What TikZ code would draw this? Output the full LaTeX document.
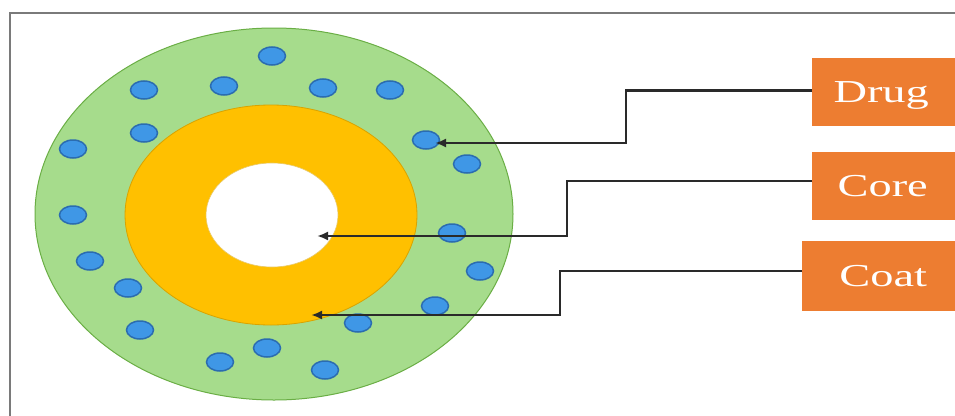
\documentclass[tikz,border=0pt]{standalone}
\usepackage{fontspec}
\usepackage{graphicx}
\setmainfont{Liberation Serif}
\usetikzlibrary{arrows.meta}
\definecolor{framegray}{HTML}{7A7A7A}
\definecolor{coatfill}{HTML}{A6DC8C}
\definecolor{coatline}{HTML}{6AAE45}
\definecolor{corefill}{HTML}{FFC000}
\definecolor{coreline}{HTML}{D9A300}
\definecolor{dotfill}{HTML}{3F97E6}
\definecolor{dotline}{HTML}{2B6CB0}
\definecolor{boxorange}{HTML}{ED7D31}
\definecolor{leader}{HTML}{2A2A2A}
\tikzset{
  drugdot/.style={fill=dotfill,draw=dotline,line width=1.5pt},
  labelbox/.style={fill=boxorange,draw=none,anchor=west,inner xsep=0pt,
    minimum height=68pt,text height=21pt,text depth=0pt,text=white,
    font=\fontsize{32}{34}\selectfont},
  leaderline/.style={draw=leader,line width=2.2pt,
    -{Latex[length=11pt,width=9pt]}}
}
\newcommand{\boxtext}[3]{\makebox[#1pt][c]{\scalebox{1.45}[1]{#3}}\hspace*{#2pt}}
\begin{document}
\begin{tikzpicture}[x=1pt,y=-1pt]
\useasboundingbox (0,0) rectangle (955,415);
\fill[white] (0,0) rectangle (955,415);
% frame
\draw[framegray,line width=2pt] (10,430) -- (10,13) -- (970,13);
% particle
\draw[fill=coatfill,draw=coatline,line width=1pt] (274,214) ellipse [x radius=239,y radius=186];
\draw[fill=corefill,draw=coreline,line width=0.8pt] (271,215) ellipse [x radius=146,y radius=110];
\draw[fill=white,draw=coreline!60,line width=0.6pt] (272,215) ellipse [x radius=66,y radius=52];
% drug dots
\foreach \px/\py in {272/56,144/90,224/86,323/88,390/90,144/133,73/149,426/140,467/164,
  73/215,452/233,90/261,480/271,128/288,435/306,140/330,358/323,267/348,220/362,325/370}
  \draw[drugdot] (\px,\py) ellipse [x radius=13.5,y radius=9];
% label boxes
\node[labelbox] (drug) at (812,91.5) {\boxtext{138}{12}{Drug}};
\node[labelbox] (core) at (812,186) {\boxtext{141}{9}{Core}};
\node[labelbox,minimum height=70pt] (coat) at (802,276) {\boxtext{162}{10}{Coat}};
% arrow targets
\coordinate (drugtip) at (435,143);
\coordinate (coretip) at (317,236);
\coordinate (coattip) at (311,315);
% leader lines
\draw[leaderline] ([yshift=1pt]drug.west) -| (626,143) -- (drugtip);
\draw[leaderline] ([yshift=5pt]core.west) -| (567,236) -- (coretip);
\draw[leaderline] ([yshift=5pt]coat.west) -| (560,315) -- (coattip);
\end{tikzpicture}
\end{document}
